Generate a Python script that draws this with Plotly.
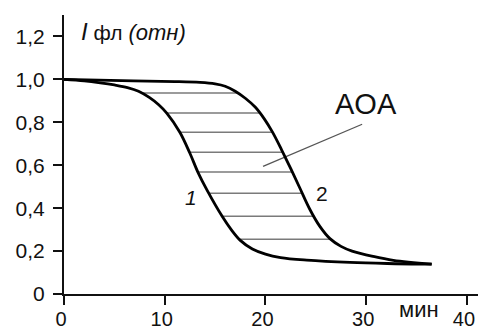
import numpy as np
import plotly.graph_objects as go

# Curve 1 (fast decay)
x1 = [0, 2.0, 3.6, 5.0, 6.3, 7.4, 8.5, 9.4, 10.2, 11.5, 12.5, 13.3, 14.2, 15.7, 16.6, 17.5, 18.7, 20.0, 21.5, 24.1, 28.4, 32.1, 36.5]
y1 = [1.0, 0.993, 0.984, 0.974, 0.962, 0.945, 0.915, 0.882, 0.843, 0.754, 0.656, 0.567, 0.484, 0.362, 0.300, 0.250, 0.210, 0.186, 0.170, 0.158, 0.147, 0.142, 0.139]
# Curve 2 (slow decay)
x2 = [0, 6.9, 11.0, 13.5, 15.0, 16.0, 17.0, 18.0, 19.0, 19.9, 20.7, 21.6, 22.5, 23.4, 24.4, 25.4, 26.4, 27.5, 28.6, 30.7, 32.7, 36.5]
y2 = [1.0, 0.993, 0.990, 0.986, 0.979, 0.968, 0.945, 0.912, 0.870, 0.815, 0.754, 0.672, 0.585, 0.495, 0.395, 0.315, 0.258, 0.222, 0.200, 0.175, 0.157, 0.139]
# Hatch levels between the curves
hatch_levels = [0.936, 0.843, 0.754, 0.661, 0.568, 0.470, 0.362, 0.255]

x_ticks = [0, 10, 20, 30, 40]
x_tick_labels = ["0", "10", "20", "30", "40"]
y_ticks = [0, 0.2, 0.4, 0.6, 0.8, 1.0, 1.2]
y_tick_labels = ["0", "0,2", "0,4", "0,6", "0,8", "1,0", "1,2"]

# Pointer from hatched area to "AOA"
pointer_x = [19.76, 29.6]
pointer_y = [0.595, 0.791]

FONT = "Liberation Sans, Arial, sans-serif"
INK = "#111111"
Y_MAX = 1.30

hx, hy = [], []
for lv in hatch_levels:
    xa = float(np.interp(lv, y1[::-1], x1[::-1]))
    xb = float(np.interp(lv, y2[::-1], x2[::-1]))
    hx += [xa, xb, None]
    hy += [lv, lv, None]

fig = go.Figure()
fig.add_trace(go.Scatter(x=hx, y=hy, mode="lines",
                         line=dict(color="#7a7a7a", width=1.5), hoverinfo="skip"))
fig.add_trace(go.Scatter(x=pointer_x, y=pointer_y, mode="lines",
                         line=dict(color="#555555", width=1.3), hoverinfo="skip"))
fig.add_trace(go.Scatter(x=x1, y=y1, mode="lines",
                         line=dict(color="#000000", width=2.8, shape="spline", smoothing=1.0)))
fig.add_trace(go.Scatter(x=x2, y=y2, mode="lines",
                         line=dict(color="#000000", width=2.8, shape="spline", smoothing=1.0)))

ann = [
    dict(x=12.6, y=0.451, text="<i>1</i>", font=dict(size=21)),
    dict(x=25.6, y=0.469, text="2", font=dict(size=21)),
    dict(x=30.0, y=0.884, text="AOA", font=dict(size=29)),
    dict(x=35.25, y=-0.072 / Y_MAX, yref="paper", text="мин", font=dict(size=22)),
    dict(x=1.5, y=1.225, xanchor="left",
         text="<i><span style='font-size:24px'>I</span></i> "
              "<span style='font-size:21px'>фл</span> "
              "<i><span style='font-size:22px'>(отн)</span></i>",
         font=dict(size=21)),
]
for a in ann:
    a.setdefault("xanchor", "center")
    a.setdefault("yref", "y")
    a["yanchor"] = "middle"
    a["showarrow"] = False
    a["xref"] = "x"
    a["font"].update(family=FONT, color=INK)

fig.update_layout(
    width=478, height=332,
    margin=dict(l=64, r=0, t=15, b=38),
    paper_bgcolor="white", plot_bgcolor="white",
    showlegend=False,
    annotations=ann,
    font=dict(family=FONT, color=INK, size=21),
)
fig.update_xaxes(range=[0, 41.1], showgrid=False, zeroline=False, automargin=False,
                 showline=True, linecolor="#111", linewidth=2,
                 ticks="outside", ticklen=9, tickwidth=2, tickcolor="#111",
                 tickvals=x_ticks, ticktext=x_tick_labels,
                 tickfont=dict(size=20, family=FONT, color=INK),
                 ticklabelstandoff=-3, ticklabelshift=-3)
fig.update_yaxes(range=[0, Y_MAX], showgrid=False, zeroline=False, automargin=False,
                 showline=True, linecolor="#111", linewidth=2,
                 ticks="outside", ticklen=9, tickwidth=2, tickcolor="#111",
                 tickvals=y_ticks, ticktext=y_tick_labels,
                 tickfont=dict(size=21, family=FONT, color=INK), ticklabelstandoff=4)

fig.write_html("out.html",
               config={"displayModeBar": False, "staticPlot": True},
               post_script="document.body.style.margin='0';document.body.style.overflow='hidden';")
